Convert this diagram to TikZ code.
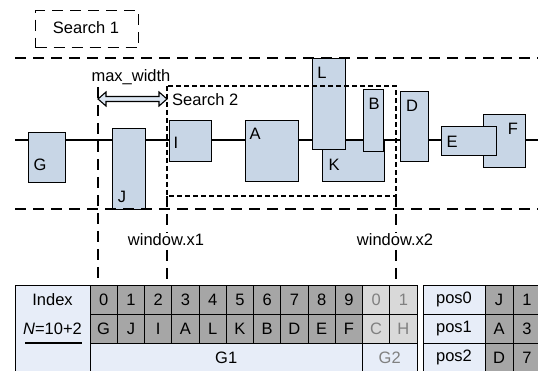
\documentclass[tikz,border=0pt]{standalone}
\usepackage{fontspec}
\setmainfont{Liberation Sans}
\definecolor{boxfill}{RGB}{200,214,230}
\definecolor{lblue}{RGB}{231,237,248}
\definecolor{arrfill}{RGB}{220,230,242}
\definecolor{dgray}{RGB}{166,166,166}
\definecolor{lgray}{RGB}{217,217,217}
\definecolor{gtext}{RGB}{128,128,128}
\begin{document}
\begin{tikzpicture}[x=1pt,y=-1pt,
  every node/.style={font=\fontsize{16.5}{19}\selectfont},
  blk/.style={draw=black, line width=1.4pt, fill=boxfill, anchor=north west, inner sep=0pt},
  lbl/.style={inner sep=0pt},
  longdash/.style={line width=1.4pt, dash pattern=on 11pt off 7pt},
  shortdash/.style={line width=1.2pt, dash pattern=on 5pt off 3pt},
  cell/.style={draw=black, line width=0.9pt, inner sep=0pt},
  dcell/.style={cell, fill=dgray},
  lcell/.style={cell, fill=lgray, text=gtext},
  bcell/.style={cell, fill=lblue}
]
\path[use as bounding box, clip] (0,0) rectangle (538,371);

% Search 1
\node[draw=black, longdash, minimum width=103, minimum height=37, anchor=north west] (s1) at (35,10) {};
\node[lbl] (s1t) at (86,28) {Search 1};

% main line
\coordinate (mlL) at (15,140);
\coordinate (mlR) at (538,140);
\draw[line width=1.2pt] (mlL) -- (mlR);

% boxes
\node[blk, minimum width=37, minimum height=50] (G) at (28,132) {};
\node[blk, minimum width=33, minimum height=81] (J) at (112,128) {};
\node[blk, minimum width=42, minimum height=41] (I) at (169,120) {};
\node[blk, minimum width=53, minimum height=61] (A) at (245,120) {};
\node[blk, minimum width=62, minimum height=41] (K) at (322,140) {};
\node[blk, minimum width=33, minimum height=91] (L) at (312,58) {};
\node[blk, minimum width=20, minimum height=62] (B) at (363,89) {};
\node[blk, minimum width=28, minimum height=70] (D) at (400,91) {};
\node[blk, minimum width=42, minimum height=53] (F) at (483,114) {};
\node[blk, minimum width=55, minimum height=29] (E) at (441,126) {};

\node[lbl] (Gt) at (40,165) {G};
\node[lbl] (Jt) at (122,197) {J};
\node[lbl] (It) at (176,143) {I};
\node[lbl] (At) at (255,134) {A};
\node[lbl] (Lt) at (322,73) {L};
\node[lbl] (Bt) at (374,104) {B};
\node[lbl] (Dt) at (412,106) {D};
\node[lbl] (Kt) at (334,165) {K};
\node[lbl] (Et) at (452,142) {E};
\node[lbl] (Ft) at (513,129) {F};

% horizontal dashed lines
\coordinate (tL) at (15,58);
\coordinate (tR) at (538,58);
\coordinate (bL) at (15,209);
\coordinate (bR) at (538,209);
\draw[longdash] (tL) -- (tR);
\draw[longdash] (bL) -- (bR);

% Search 2 window
\coordinate (w1) at (167,86);
\coordinate (w2) at (396,196);
\draw[shortdash] (w1) rectangle (w2);
\coordinate (v1t) at (98,87);
\coordinate (v1b) at (98,283);
\coordinate (v2t) at (167,196);
\coordinate (v2b) at (167,283);
\coordinate (v3t) at (396,196);
\coordinate (v3b) at (396,283);
\draw[longdash] (v1t) -- (v1b);
\draw[longdash] (v2t) -- (v2b);
\draw[longdash] (v3t) -- (v3b);

% max width arrow
\draw[line width=1.1pt, fill=arrfill, line join=miter]
  (98,99) -- (106,92) -- (106,96.5) -- (159,96.5) -- (159,92) -- (167,99)
  -- (159,106) -- (159,101.5) -- (106,101.5) -- (106,106) -- cycle;
\node[lbl] (mw) at (131,77) {max\_width};
\node[lbl, anchor=west] (s2t) at (172,100) {Search 2};

\node[fill=white, inner sep=1pt] (wx1) at (166,240) {window.x1};
\node[fill=white, inner sep=1pt] (wx2) at (395,240) {window.x2};

% table: labels
\node[bcell, minimum width=75, minimum height=29] (hIdx) at (52.5,299.5) {Index};
\node[fill=lblue, inner sep=0pt, minimum width=75, minimum height=29] (hN) at (52.5,328.5) {\textit{N}=10+2};
\node[fill=lblue, inner sep=0pt, minimum width=75, minimum height=30] (hG) at (52.5,358) {};
\coordinate (lbT) at (15,314);
\coordinate (lbB) at (15,373);
\draw[line width=0.9pt] (lbT) -- (lbB);
\coordinate (ulA) at (25,343);
\coordinate (ulB) at (82,343);
\draw[line width=2pt] (ulA) -- (ulB);

\foreach \t [count=\i from 0] in {0,1,2,3,4,5,6,7,8,9} {
  \node[dcell, minimum width=27.25, minimum height=29] (ix\i) at ({90+27.25*(\i+0.5)},299.5) {\t};
}
\foreach \t [count=\i from 0] in {G,J,I,A,L,K,B,D,E,F} {
  \node[dcell, minimum width=27.25, minimum height=29] (nm\i) at ({90+27.25*(\i+0.5)},328.5) {\t};
}
\node[lcell, minimum width=27.25, minimum height=29] (ix10) at ({90+27.25*10.5},299.5) {0};
\node[lcell, minimum width=27.25, minimum height=29] (ix11) at ({90+27.25*11.5},299.5) {1};
\node[lcell, minimum width=27.25, minimum height=29] (nm10) at ({90+27.25*10.5},328.5) {C};
\node[lcell, minimum width=27.25, minimum height=29] (nm11) at ({90+27.25*11.5},328.5) {H};
\node[bcell, minimum width=272.5, minimum height=30] (g1) at (226.25,358) {G1};
\node[bcell, minimum width=54.5, minimum height=30, text=gtext] (g2) at (389.75,358) {G2};

% right table
\foreach \p/\a/\b [count=\r from 0] in {pos0/J/1, pos1/A/3, pos2/D/7} {
  \node[bcell, minimum width=62, minimum height=29] (p\r) at (454,{299.5+29*\r}) {\p};
  \node[dcell, minimum width=28, minimum height=29] (pa\r) at (499,{299.5+29*\r}) {\a};
  \node[dcell, minimum width=28, minimum height=29] (pb\r) at (527,{299.5+29*\r}) {\b};
}
\end{tikzpicture}
\end{document}
